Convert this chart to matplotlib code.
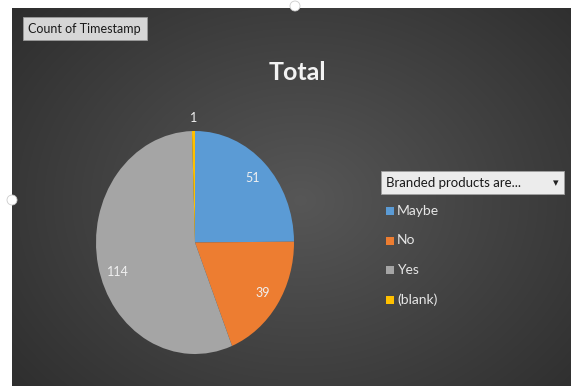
import numpy as np
import matplotlib
matplotlib.use("Agg")
import matplotlib.pyplot as plt
from matplotlib.patches import Rectangle, Ellipse

# ── data ────────────────────────────────────────────────────────────────────
categories = ["Maybe", "No", "Yes", "(blank)"]
counts = [51, 39, 114, 1]
colors = ["#5B9BD5", "#ED7D31", "#A5A5A5", "#FFC000"]
title = "Total"
field_button = "Count of Timestamp"
legend_field = "Branded products are..."

W, H = 571, 386
FONT = ["Lato", "DejaVu Sans"]

fig = plt.figure(figsize=(W / 100, H / 100), dpi=100, facecolor="white")

# ── canvas in pixel coordinates ──
bg = fig.add_axes([0, 0, 1, 1])
bg.set_xlim(0, W); bg.set_ylim(H, 0); bg.axis("off")

# dark radial gradient chart area
x0, y0 = 12, 8
yy, xx = np.mgrid[y0:H, x0:W]
d = np.sqrt(((xx - 300) / 330.0) ** 2 + ((yy - 200) / 260.0) ** 2)
shade = np.clip(0.34 - 0.14 * d, 0.17, 0.34)
img = np.dstack([shade, shade, shade])
bg.imshow(img, extent=(x0, W, H, y0), aspect="auto", interpolation="bilinear", zorder=0)

# selection handles
for cx, cy in [(12, 200), (295, 6)]:
    bg.add_patch(Ellipse((cx, cy), 10, 10, facecolor="white", edgecolor="#cccccc", lw=0.6, zorder=3))

# field button
bg.add_patch(Rectangle((23, 17), 124, 23, facecolor="#d6d6d6", edgecolor="#9a9a9a", lw=0.6, zorder=2))
bg.text(28, 29, field_button, fontsize=9, color="#1a1a1a", va="center", ha="left", family=FONT, zorder=3)

# title
bg.text(297, 72, title, fontsize=18, fontweight="bold", color="#f2f2f2", ha="center", va="center", family=FONT)

# legend field dropdown
bg.add_patch(Rectangle((381, 171), 183, 23, facecolor="#ececec", edgecolor="#a0a0a0", lw=0.6, zorder=2))
bg.text(386, 183, legend_field, fontsize=9.5, color="#1a1a1a", va="center", ha="left", family=FONT, zorder=3)
bg.text(556, 183, "▾", fontsize=8, color="#222222", va="center", ha="center", family=["DejaVu Sans"], zorder=3)

# legend entries
for i, (lab, col) in enumerate(zip(categories, colors)):
    y = 211 + i * 29.5
    bg.add_patch(Rectangle((386, y - 4), 8, 8, facecolor=col, edgecolor="none", zorder=2))
    bg.text(397, y, lab, fontsize=10, color="#e6e6e6", va="center", ha="left", family=FONT, zorder=3)

# ── pie (elliptical, as in the screenshot) ──
left, right, top, bottom = 96, 294, 131, 354
pax = fig.add_axes([left / W, (H - bottom) / H, (right - left) / W, (bottom - top) / H])
pax.set_facecolor("none")
wedges, _ = pax.pie(counts, colors=colors, startangle=90, counterclock=False,
                    wedgeprops=dict(linewidth=0))
pax.set_aspect("auto")
pax.set_xlim(-1, 1); pax.set_ylim(-1, 1)
pax.axis("off")

total = sum(counts)
for w, v in zip(wedges, counts):
    ang = np.deg2rad((w.theta1 + w.theta2) / 2)
    r = 1.12 if v / total < 0.02 else 0.82
    if v == max(counts):
        ang += np.deg2rad(7)
    pax.text(r * np.cos(ang), r * np.sin(ang), str(v), ha="center", va="center",
             fontsize=9, color="#f0f0f0", family=FONT)

fig.savefig("out.png", dpi=100, facecolor="white")
